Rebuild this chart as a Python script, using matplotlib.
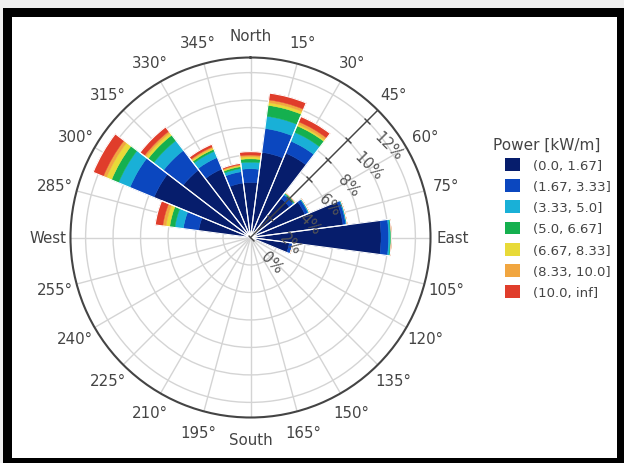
import numpy as np
import matplotlib
matplotlib.use('Agg')
import matplotlib.pyplot as plt
from matplotlib.patches import Rectangle, Patch

# wind directions (deg, compass) and frequency (%) per power bin
directions = [0, 15, 30, 45, 60, 75, 90, 105, 120, 135, 150, 165,
              180, 195, 210, 225, 240, 255, 270, 285, 300, 315, 330, 345]
p_0_167 = [4.0, 6.25, 6.65, 3.6, 4.3, 6.8, 9.5, 2.85, 0, 0, 0, 0,
           0, 0, 0, 0, 0, 0, 0, 3.8, 7.6, 6.2, 5.4, 4.0]
p_167_333 = [1.0, 1.75, 0.95, 0.35, 0.25, 0.2, 0.55, 0.25, 0, 0, 0, 0,
             0, 0, 0, 0, 0, 0, 0, 1.13, 1.9, 1.8, 0.9, 0.83]
p_333_5 = [0.48, 0.9, 0.7, 0.1, 0.06, 0.06, 0.12, 0, 0, 0, 0, 0,
           0, 0, 0, 0, 0, 0, 0, 0.62, 0.9, 0.9, 0.5, 0.23]
p_5_667 = [0.24, 0.8, 0.5, 0.05, 0.04, 0.04, 0.08, 0, 0, 0, 0, 0,
           0, 0, 0, 0, 0, 0, 0, 0.38, 0.55, 0.5, 0.15, 0.14]
p_667_833 = [0.15, 0.2, 0.12, 0.02, 0, 0, 0, 0, 0, 0, 0, 0,
             0, 0, 0, 0, 0, 0, 0, 0.27, 0.4, 0.2, 0.1, 0.08]
p_833_10 = [0.13, 0.2, 0.2, 0.02, 0, 0, 0, 0, 0, 0, 0, 0,
            0, 0, 0, 0, 0, 0, 0, 0.24, 0.25, 0.15, 0.1, 0.07]
p_10_inf = [0.25, 0.5, 0.42, 0.02, 0, 0, 0, 0, 0, 0, 0, 0,
            0, 0, 0, 0, 0, 0, 0, 0.56, 0.8, 0.4, 0.2, 0.1]

bins = ['(0.0, 1.67]', '(1.67, 3.33]', '(3.33, 5.0]', '(5.0, 6.67]',
        '(6.67, 8.33]', '(8.33, 10.0]', '(10.0, inf]']
colors = ['#061d6c', '#0b47bf', '#19b0d7', '#15b04f', '#e8da38', '#f1a640', '#e03d2b']

angle_labels = ['North', '15°', '30°', '45°', '60°', '75°', 'East', '105°', '120°',
                '135°', '150°', '165°', 'South', '195°', '210°', '225°', '240°',
                '255°', 'West', '285°', '300°', '315°', '330°', '345°']
r_ticks = [0, 2, 4, 6, 8, 10, 12]

fig = plt.figure(figsize=(6.24, 4.64), dpi=100, facecolor='#efefef')
# black frame around the chart
fig.add_artist(Rectangle((3 / 624, 0), 621 / 624, 455 / 464, transform=fig.transFigure,
                         facecolor='black', edgecolor='none', zorder=-10))
fig.add_artist(Rectangle((12 / 624, 5 / 464), 605 / 624, 441 / 464, transform=fig.transFigure,
                         facecolor='white', edgecolor='none', zorder=-9))

ax = fig.add_axes([70.5 / 624, 45.5 / 464, 360 / 624, 360 / 464], projection='polar')
ax.set_facecolor('white')
ax.set_theta_zero_location('N')
ax.set_theta_direction(-1)
ax.set_axisbelow(True)

theta = np.deg2rad(directions)
width = np.deg2rad(15)
series = [p_0_167, p_167_333, p_333_5, p_5_667, p_667_833, p_833_10, p_10_inf]
bottom = np.zeros(len(directions))
for vals, col in zip(series, colors):
    vals = np.array(vals)
    ax.bar(theta, vals, width=width, bottom=bottom, color=col,
           edgecolor=col, linewidth=0.3, zorder=3)
    bottom += vals
# thin white separators between neighbouring sectors
ax.bar(theta, bottom, width=width, fill=False, edgecolor='white', linewidth=0.8, zorder=3.5)

ax.set_ylim(0, 13.1)
ax.set_yticks(r_ticks[1:])
ax.set_yticklabels([])
ax.set_xticks(theta)
ax.set_xticklabels(angle_labels, fontsize=10.8, color='#444444')
ax.tick_params(axis='x', direction='out', length=6, width=1, color='#444444', pad=3)
ax.grid(color='#d4d4d4', linewidth=1)
ax.spines['polar'].set_color('#444444')
ax.spines['polar'].set_linewidth(1.5)

# radial axis along 45 degrees
a45 = np.deg2rad(45)
ax.plot([a45, a45], [0, 13.1], color='#444444', linewidth=1, zorder=4)
ax.plot([a45] * len(r_ticks), r_ticks, linestyle='none', marker=(2, 0, 45),
        markersize=6, markeredgewidth=1, color='#444444', zorder=4)
for r in r_ticks:
    ax.annotate(f'{r}%', xy=(a45, r), xytext=(15, -18), textcoords='offset points',
                rotation=-45, ha='center', va='center', fontsize=10.8,
                color='#555555', zorder=5)

fig.text(493 / 624, 1 - 145 / 464, 'Power [kW/m]', fontsize=11, color='#444444',
         ha='left', va='center')
handles = [Patch(facecolor=c, edgecolor='none') for c in colors]
leg = fig.legend(handles, bins, loc='upper left', bbox_to_anchor=(505 / 624, 1 - 159 / 464),
                 frameon=False, fontsize=9.5,
                 handlelength=1.1, handleheight=1.1, handletextpad=1.05,
                 labelspacing=0.56, borderpad=0, borderaxespad=0)
for t in leg.get_texts():
    t.set_color('#444444')

fig.savefig('out.png', dpi=100, facecolor=fig.get_facecolor())
